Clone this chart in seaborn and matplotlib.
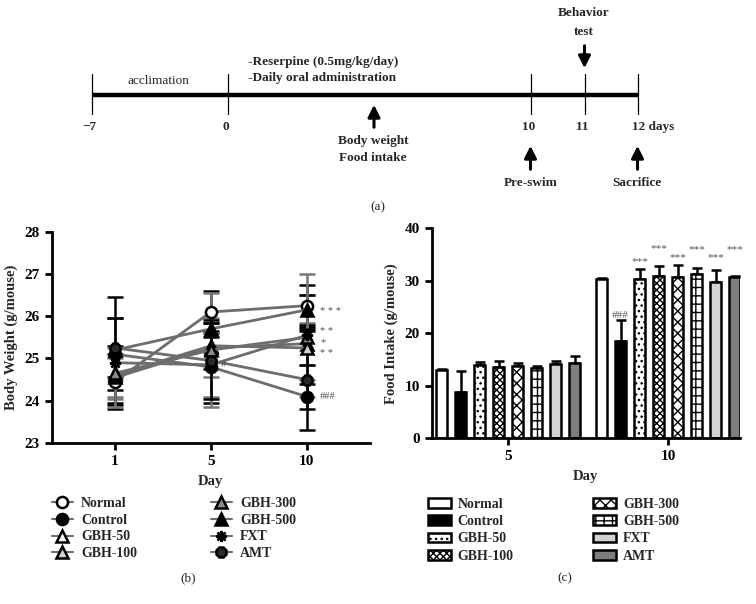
import numpy as np
import pandas as pd
import matplotlib
matplotlib.use("Agg")
import matplotlib.pyplot as plt
import seaborn as sns
from matplotlib.lines import Line2D
from matplotlib.patches import Patch

# ---------------- data ----------------
groups = ["Normal", "Control", "GBH-50", "GBH-100", "GBH-300", "GBH-500", "FXT", "AMT"]

# (b) body weight, days 1, 5, 10
bw_days = ["1", "5", "10"]
bw_normal = [24.45, 26.10, 26.25]
bw_control = [25.10, 24.80, 24.10]
bw_gbh50 = [24.55, 25.25, 25.35]
bw_gbh100 = [24.60, 25.30, 25.25]
bw_gbh300 = [24.65, 25.20, 25.50]
bw_gbh500 = [25.20, 25.70, 26.15]
bw_fxt = [24.90, 24.85, 25.55]
bw_amt = [25.25, 24.95, 24.50]

bw_sd_normal = [0.65, 0.50, 0.50]
bw_sd_control = [0.85, 0.85, 0.30]
bw_sd_gbh50 = [0.45, 0.70, 0.50]
bw_sd_gbh100 = [0.70, 0.55, 0.40]
bw_sd_gbh300 = [0.60, 1.35, 1.00]
bw_sd_gbh500 = [1.25, 0.20, 0.35]
bw_sd_fxt = [1.05, 0.75, 1.45]
bw_sd_amt = [0.70, 0.90, 1.20]

bw_sig_labels = ["* * *", "* *", "*", "* *", "###"]
bw_sig_values = [26.12, 25.64, 25.38, 25.12, 24.10]

# (c) food intake, days 5, 10
fi_days = ["5", "10"]
fi_day5 = [13.0, 8.8, 14.0, 13.6, 13.7, 13.3, 14.2, 14.3]
fi_day5_err = [0.2, 4.1, 0.5, 1.2, 0.7, 0.4, 0.5, 1.4]
fi_day10 = [30.4, 18.5, 30.4, 31.0, 30.8, 31.3, 29.7, 30.8]
fi_day10_err = [0.2, 4.0, 1.9, 1.8, 2.2, 1.1, 2.4, 0.2]
fi_sig_day10 = ["", "###", "***", "***", "***", "***", "***", "***"]
fi_sig_y = [0, 23.4, 33.6, 36.2, 34.4, 36.0, 34.4, 36.0]

# (a) timeline
tl_days = ["\u22127", "0", "10", "11", "12 days"]

# ---------------- style ----------------
sns.set_theme(style="ticks")
plt.rcParams["font.family"] = ["Liberation Serif", "DejaVu Serif"]
plt.rcParams["hatch.linewidth"] = 1.0

fig = plt.figure(figsize=(7.56, 6.04), dpi=100)

# ---------------- (a) timeline ----------------
axa = fig.add_axes([0, 1 - 215 / 604, 1, 215 / 604])
axa.set_xlim(0, 756)
axa.set_ylim(215, 0)
axa.axis("off")
tl_x = [91.5, 227.5, 530.5, 584.5, 637.5]
axa.plot([tl_x[0], tl_x[-1]], [95, 95], color="black", lw=3.2, solid_capstyle="butt")
for i, (xx, lab) in enumerate(zip(tl_x, tl_days)):
    axa.plot([xx, xx], [74, 114], color="black", lw=0.9)
    if i == len(tl_x) - 1:
        axa.text(xx - 5, 127, lab, ha="left", va="center", fontsize=9.5, fontweight="bold")
    else:
        axa.text(xx - 2, 127, lab, ha="center", va="center", fontsize=9.5, fontweight="bold")
axa.text(158, 81, "acclimation", ha="center", va="center", fontsize=9.5)
axa.text(248, 62, "-Reserpine (0.5mg/kg/day)", ha="left", va="center", fontsize=9.5, fontweight="bold")
axa.text(248, 78, "-Daily oral administration", ha="left", va="center", fontsize=9.5, fontweight="bold")

def arrow(x, y0, y1):
    axa.annotate("", xy=(x, y1), xytext=(x, y0),
                 arrowprops=dict(arrowstyle="-|>,head_length=0.6,head_width=0.3", color="black", lw=2.2))

arrow(374, 130, 102)
axa.text(373, 141, "Body weight", ha="center", va="center", fontsize=9.5, fontweight="bold")
axa.text(373, 158, "Food intake", ha="center", va="center", fontsize=9.5, fontweight="bold")
arrow(584.5, 43, 71)
axa.text(584, 13, "Behavior", ha="center", va="center", fontsize=9.5, fontweight="bold")
axa.text(584, 32, "test", ha="center", va="center", fontsize=9.5, fontweight="bold")
arrow(530.5, 172, 143)
axa.text(531, 183, "Pre-swim", ha="center", va="center", fontsize=9.5, fontweight="bold")
arrow(637.5, 172, 143)
axa.text(637, 183, "Sacrifice", ha="center", va="center", fontsize=9.5, fontweight="bold")
axa.text(378, 207, "(a)", ha="center", va="center", fontsize=9.5)

# ---------------- (b) body weight ----------------
axb = fig.add_axes([51.7 / 756, 1 - 443 / 604, (370 - 51.7) / 756, (443 - 231.7) / 604])
bw_means = [bw_normal, bw_control, bw_gbh50, bw_gbh100, bw_gbh300, bw_gbh500, bw_fxt, bw_amt]
bw_sds = [bw_sd_normal, bw_sd_control, bw_sd_gbh50, bw_sd_gbh100, bw_sd_gbh300,
          bw_sd_gbh500, bw_sd_fxt, bw_sd_amt]
rows = []
for g, m, s in zip(groups, bw_means, bw_sds):
    for j, d in enumerate(bw_days):
        rows.append(dict(group=g, day=d, pos=j, mean=m[j], sd=s[j]))
dfb = pd.DataFrame(rows)

mk = {"Normal": "o", "Control": "o", "GBH-50": "^", "GBH-100": "^", "GBH-300": "^",
      "GBH-500": "^", "FXT": (8, 2, 0), "AMT": "8"}
mfc = {"Normal": "white", "Control": "black", "GBH-50": "white", "GBH-100": "#cfcfcf",
       "GBH-300": "#8a8a8a", "GBH-500": "black", "FXT": "black", "AMT": "#2a2a2a"}
ecol = {"Normal": "black", "Control": "black", "GBH-50": "#777777", "GBH-100": "black",
        "GBH-300": "#777777", "GBH-500": "black", "FXT": "#777777", "AMT": "black"}
line_col = "#6d6d6d"

for g in groups:
    sub = dfb[dfb.group == g]
    axb.errorbar(sub["pos"], sub["mean"], yerr=sub["sd"], fmt="none", ecolor=ecol[g],
                 elinewidth=1.8, capsize=6, capthick=1.8, zorder=2)
for g in groups:
    sub = dfb[dfb.group == g]
    sns.lineplot(data=sub, x="pos", y="mean", ax=axb, color=line_col, lw=2,
                 marker=mk[g], ms=8, mfc=mfc[g], mec="black", mew=1.8,
                 legend=False, zorder=3, errorbar=None)

axb.set_xlim(-0.66, 2.66)
axb.set_ylim(23, 28)
axb.set_xticks(range(len(bw_days)))
axb.set_xticklabels(bw_days)
axb.set_yticks([23, 24, 25, 26, 27, 28])
axb.set_xlabel("Day", fontsize=10.5, fontweight="bold", labelpad=5)
axb.set_ylabel("Body Weight (g/mouse)", fontsize=10.5, fontweight="bold", labelpad=5)
for lab, yv in zip(bw_sig_labels, bw_sig_values):
    axb.text(2.14, yv, lab, ha="left", va="center", fontsize=7.5, color="#555555")
axb.text(1.1, 24.85, "#", ha="left", va="center", fontsize=7.5, color="#555555")

# ---------------- (c) food intake ----------------
axc = fig.add_axes([431.7 / 756, 1 - 438.3 / 604, (740 - 431.7) / 756, (438.3 - 228.3) / 604])
rows = []
for i, g in enumerate(groups):
    rows.append(dict(group=g, day=fi_days[0], val=fi_day5[i]))
    rows.append(dict(group=g, day=fi_days[1], val=fi_day10[i]))
dfc = pd.DataFrame(rows)
fcol = {"Normal": "white", "Control": "black", "GBH-50": "white", "GBH-100": "white",
        "GBH-300": "white", "GBH-500": "white", "FXT": "#d2d2d2", "AMT": "#7d7d7d"}
hatches = {"Normal": "", "Control": "", "GBH-50": "...", "GBH-100": "xxxxx",
           "GBH-300": "xxx", "GBH-500": "++", "FXT": "", "AMT": ""}
sns.barplot(data=dfc, x="day", y="val", hue="group", order=fi_days, hue_order=groups,
            palette=fcol, saturation=1, width=0.95, gap=0.42, edgecolor="black",
            linewidth=1.8, errorbar=None, legend=False, ax=axc, zorder=2)
errs = [fi_day5_err, fi_day10_err]
for i, (g, cont) in enumerate(zip(groups, axc.containers)):
    for j, bar in enumerate(cont):
        bar.set_hatch(hatches[g])
        xc = bar.get_x() + bar.get_width() / 2
        h = bar.get_height()
        axc.errorbar([xc], [h], yerr=[[0], [errs[j][i]]], fmt="none", ecolor="black",
                     elinewidth=1.8, capsize=3.5, capthick=1.8, zorder=1)
        if j == 1 and fi_sig_day10[i]:
            axc.text(xc, fi_sig_y[i], fi_sig_day10[i], ha="center", va="center",
                     fontsize=8, color="#555555")
axc.set_xlim(-0.48, 1.45)
axc.set_ylim(0, 40)
axc.set_yticks([0, 10, 20, 30, 40])
axc.set_xlabel("Day", fontsize=10.5, fontweight="bold", labelpad=5)
axc.set_ylabel("Food Intake (g/mouse)", fontsize=10.5, fontweight="bold", labelpad=5)

for ax in (axb, axc):
    sns.despine(ax=ax)
    for sp in ("left", "bottom"):
        ax.spines[sp].set_linewidth(2)
        ax.spines[sp].set_color("black")
    ax.tick_params(width=2, length=5, colors="black", labelsize=11)
    for t in ax.get_xticklabels() + ax.get_yticklabels():
        t.set_fontweight("bold")

# ---------------- legends ----------------
hb = [Line2D([0], [0], color=line_col, lw=1.5, marker=mk[g], ms=8, mfc=mfc[g],
             mec="black", mew=1.8, label=g) for g in groups]
lb = fig.legend(handles=hb, loc="upper left", bbox_to_anchor=(52 / 756, 1 - 497 / 604),
                ncol=2, frameon=False, handlelength=1.5, handletextpad=0.6,
                borderpad=0, borderaxespad=0,
                columnspacing=5.3, labelspacing=0.27, prop=dict(size=10, weight="bold"))
hc = [Patch(facecolor=fcol[g], edgecolor="black", linewidth=1.8, hatch=hatches[g], label=g)
      for g in groups]
lc = fig.legend(handles=hc, loc="upper left", bbox_to_anchor=(428 / 756, 1 - 498 / 604),
                ncol=2, frameon=False, handlelength=1.65, handleheight=0.7, handletextpad=0.5,
                borderpad=0, borderaxespad=0,
                columnspacing=5.7, labelspacing=0.3, prop=dict(size=10, weight="bold"))
fig.text(188 / 756, 1 - 578 / 604, "(b)", ha="center", va="center", fontsize=9.5)
fig.text(565 / 756, 1 - 578 / 604, "(c)", ha="center", va="center", fontsize=9.5)

fig.savefig("out.png", dpi=100)
